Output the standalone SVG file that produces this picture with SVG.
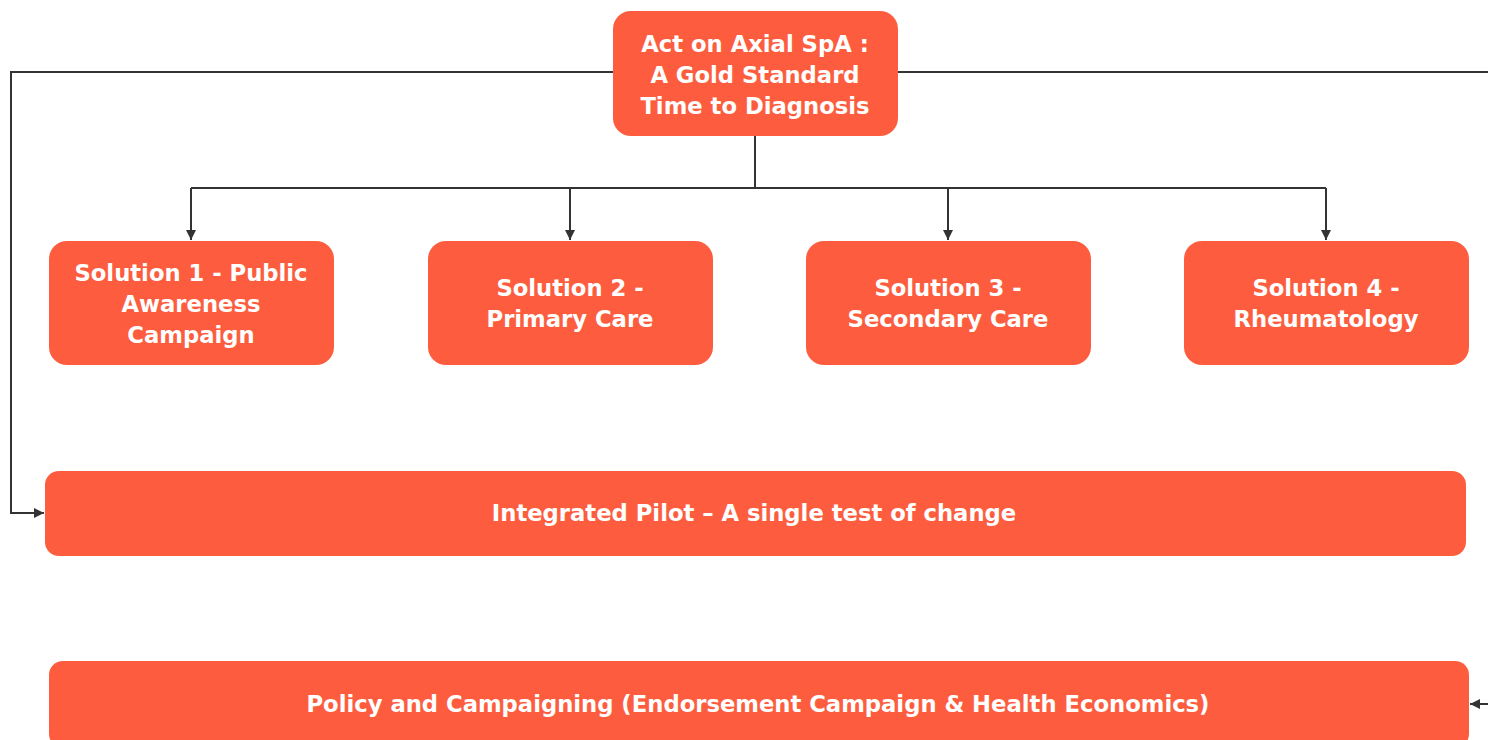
<svg xmlns="http://www.w3.org/2000/svg" width="1488" height="740" viewBox="0 0 1488 740">
<defs>
<style>
.n{fill:#FD5D3E}
.t{font-family:"DejaVu Sans",Verdana,sans-serif;font-weight:bold;font-size:22.7px;fill:#FFFFFF;text-anchor:middle}
.c{fill:none;stroke:#333333;stroke-width:2}
</style>
<marker id="a" viewBox="0 0 10 10" refX="10" refY="5" markerWidth="10" markerHeight="10" markerUnits="userSpaceOnUse" orient="auto"><path d="M0,0 L10,5 L0,10 Z" fill="#333333"/></marker>
</defs>
<rect width="1488" height="740" fill="#FFFFFF"/>
<g id="connectors">
<path class="c" d="M755,136 V188"/>
<path class="c" d="M191,188 H1326"/>
<path class="c" d="M191,188 V240" marker-end="url(#a)"/>
<path class="c" d="M570,188 V240" marker-end="url(#a)"/>
<path class="c" d="M948,188 V240" marker-end="url(#a)"/>
<path class="c" d="M1326,188 V240" marker-end="url(#a)"/>
<path class="c" d="M613,72 H11 V513 H44" marker-end="url(#a)"/>
<path class="c" d="M898,72 H1500 V704 H1470" marker-end="url(#a)"/>
</g>
<g id="root">
<rect class="n" x="613" y="11" width="285" height="125" rx="18"/>
<text class="t" x="755" y="52">Act on Axial SpA :</text>
<text class="t" x="755" y="83">A Gold Standard</text>
<text class="t" x="755" y="114">Time to Diagnosis</text>
</g>
<g id="s1">
<rect class="n" x="49" y="241" width="285" height="124" rx="18"/>
<text class="t" x="191" y="281">Solution 1 - Public</text>
<text class="t" x="191" y="312">Awareness</text>
<text class="t" x="191" y="343">Campaign</text>
</g>
<g id="s2">
<rect class="n" x="428" y="241" width="285" height="124" rx="18"/>
<text class="t" x="570" y="296">Solution 2 -</text>
<text class="t" x="570" y="327">Primary Care</text>
</g>
<g id="s3">
<rect class="n" x="806" y="241" width="285" height="124" rx="18"/>
<text class="t" x="948" y="296">Solution 3 -</text>
<text class="t" x="948" y="327">Secondary Care</text>
</g>
<g id="s4">
<rect class="n" x="1184" y="241" width="285" height="124" rx="18"/>
<text class="t" x="1326" y="296">Solution 4 -</text>
<text class="t" x="1326" y="327">Rheumatology</text>
</g>
<g id="pilot">
<rect class="n" x="45" y="471" width="1421" height="85" rx="14"/>
<text class="t" x="754" y="521">Integrated Pilot – A single test of change</text>
</g>
<g id="policy">
<rect class="n" x="49" y="661" width="1420" height="87" rx="14"/>
<text class="t" x="758" y="712">Policy and Campaigning (Endorsement Campaign &amp; Health Economics)</text>
</g>
</svg>
